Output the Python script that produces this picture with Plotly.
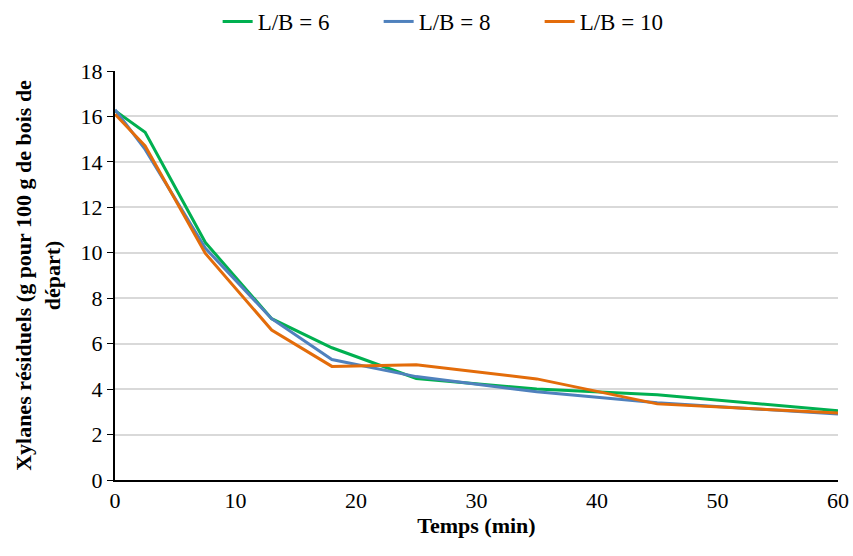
import plotly.graph_objects as go

temps = [0, 2.5, 7.5, 13, 18, 25, 35, 45, 60]
lb6 = [16.25, 15.3, 10.45, 7.1, 5.82, 4.47, 4.0, 3.75, 3.05]
lb8 = [16.3, 14.55, 10.2, 7.1, 5.3, 4.55, 3.88, 3.4, 2.9]
lb10 = [16.1, 14.7, 9.97, 6.6, 5.0, 5.07, 4.45, 3.35, 2.95]
names = ["L/B = 6", "L/B = 8", "L/B = 10"]
colors = ["#00B050", "#4F81BD", "#E36C0A"]

fig = go.Figure()
for name, ys, c in zip(names, [lb6, lb8, lb10], colors):
    fig.add_trace(go.Scatter(x=temps, y=ys, mode="lines", name=name,
                             line=dict(color=c, width=3)))

font = "Liberation Serif"
fig.update_layout(
    width=853, height=556,
    margin=dict(l=115, r=15, t=71, b=76, autoexpand=False),
    paper_bgcolor="white", plot_bgcolor="white",
    font=dict(family=font, size=22, color="black"),
    showlegend=True,
    legend=dict(orientation="h", x=0.476, xanchor="center", y=1.0, yanchor="top",
                yref="container", font=dict(size=23, family=font),
                entrywidth=116, entrywidthmode="pixels"),
    xaxis=dict(range=[0, 60], dtick=10, showgrid=False, showline=True,
               linecolor="black", linewidth=2, ticks="", zeroline=False,
               automargin=False, tickfont=dict(size=22, family=font),
               title=dict(text="<b>Temps (min)</b>", font=dict(size=22, family=font), standoff=0)),
    yaxis=dict(range=[0, 18], dtick=2, showgrid=True, gridcolor="#D9D9D9", gridwidth=1.5,
               showline=True, linecolor="black", linewidth=2, ticks="outside",
               ticklen=6, tickcolor="black", zeroline=False, automargin=False,
               tickfont=dict(size=22, family=font),
               title=dict(text="<b>Xylanes résiduels (g pour 100 g de bois de<br>départ)</b>",
                          font=dict(size=22, family=font), standoff=14)),
)
fig.write_html("out.html", config={"displayModeBar": False},
               post_script="document.body.style.margin='0';document.body.style.padding='0';")
